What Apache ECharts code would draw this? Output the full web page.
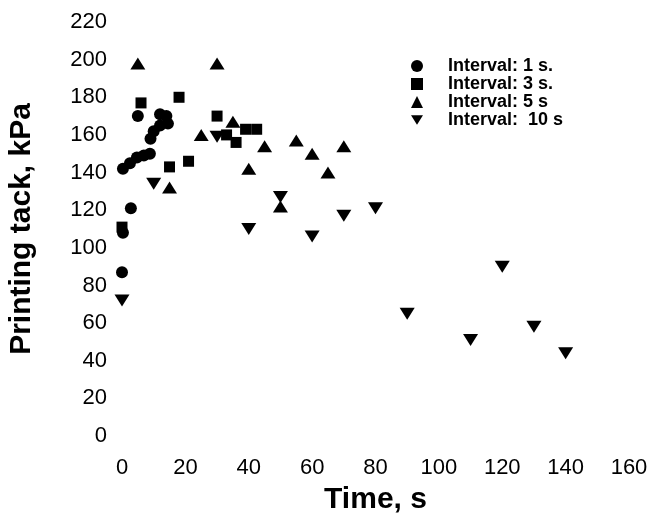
<!DOCTYPE html>
<html>
<head>
<meta charset="utf-8">
<script src="https://cdn.jsdelivr.net/npm/echarts@6/dist/echarts.min.js"></script>
<style>
  html, body { margin: 0; padding: 0; background: #fff; }
  #chart { width: 654px; height: 516px; }
</style>
</head>
<body>
<div id="chart"></div>
<script>
  // Interval: 1 s.
  var time1 = [0, 0.3, 2.8, 0.3, 2.5, 4.7, 6.9, 8.8, 5, 9, 10, 12, 12, 14, 14.5];
  var tack1 = [87, 108, 121, 142, 145, 148, 149, 150, 170, 158, 162, 165, 171, 170, 166];
  // Interval: 3 s.
  var time3 = [0, 6, 18, 30, 15, 21, 33, 36, 39, 42.5];
  var tack3 = [111, 177, 180, 170, 143, 146, 160, 156, 163, 163];
  // Interval: 5 s
  var time5 = [5, 30, 35, 25, 45, 55, 60, 65, 70, 40, 15, 50];
  var tack5 = [198, 198, 167, 160, 154, 157, 150, 140, 154, 142, 132, 122];
  // Interval: 10 s
  var time10 = [0, 10, 30, 40, 50, 60, 70, 80, 90, 110, 120, 130, 140];
  var tack10 = [72, 134, 159, 110, 127, 106, 117, 121, 65, 51, 90, 58, 44];

  var seriesNames = ["Interval: 1 s.", "Interval: 3 s.", "Interval: 5 s", "Interval:  10 s"];

  function pairs(xs, ys) {
    return xs.map(function (x, i) { return [x, ys[i]]; });
  }

  var myChart = echarts.init(document.getElementById("chart"));

  var option = {
    animation: false,
    grid: { left: 122, right: 25, top: 22, bottom: 80, outerBoundsMode: "none" },
    legend: {
      orient: "vertical",
      left: 406,
      top: 52,
      itemWidth: 12,
      itemHeight: 12,
      itemGap: 0,
      data: seriesNames,
      textStyle: {
        fontFamily: "Liberation Sans, Arial",
        fontWeight: "bold",
        fontSize: 18,
        lineHeight: 17,
        color: "#000",
        padding: [0, 0, 0, 20]
      }
    },
    xAxis: {
      type: "value",
      min: 0,
      max: 160,
      interval: 20,
      name: "Time, s",
      nameLocation: "middle",
      nameGap: 49,
      nameTextStyle: { fontFamily: "Liberation Sans, Arial", fontWeight: "bold", fontSize: 30, color: "#000" },
      axisLine: { show: false },
      axisTick: { show: false },
      splitLine: { show: false },
      axisLabel: { fontFamily: "Liberation Sans, Arial", fontSize: 22, color: "#000", margin: 21 }
    },
    yAxis: {
      type: "value",
      min: 0,
      max: 220,
      interval: 20,
      name: "Printing tack, kPa",
      nameLocation: "middle",
      nameGap: 85,
      nameTextStyle: { fontFamily: "Liberation Sans, Arial", fontWeight: "bold", fontSize: 30, color: "#000" },
      axisLine: { show: false },
      axisTick: { show: false },
      splitLine: { show: false },
      axisLabel: { fontFamily: "Liberation Sans, Arial", fontSize: 22, color: "#000", margin: 15 }
    },
    series: [
      {
        name: seriesNames[0],
        type: "scatter",
        symbol: "circle",
        symbolSize: 12,
        itemStyle: { color: "#000", opacity: 1 },
        data: pairs(time1, tack1)
      },
      {
        name: seriesNames[1],
        type: "scatter",
        symbol: "rect",
        symbolSize: 11,
        itemStyle: { color: "#000", opacity: 1 },
        data: pairs(time3, tack3)
      },
      {
        name: seriesNames[2],
        type: "scatter",
        symbol: "triangle",
        symbolSize: [15, 12],
        itemStyle: { color: "#000", opacity: 1 },
        data: pairs(time5, tack5)
      },
      {
        name: seriesNames[3],
        type: "scatter",
        symbol: "path://M0,0L15,0L7.5,12Z",
        symbolSize: [15, 12],
        itemStyle: { color: "#000", opacity: 1 },
        data: pairs(time10, tack10)
      }
    ]
  };

  myChart.setOption(option);
</script>
</body>
</html>
